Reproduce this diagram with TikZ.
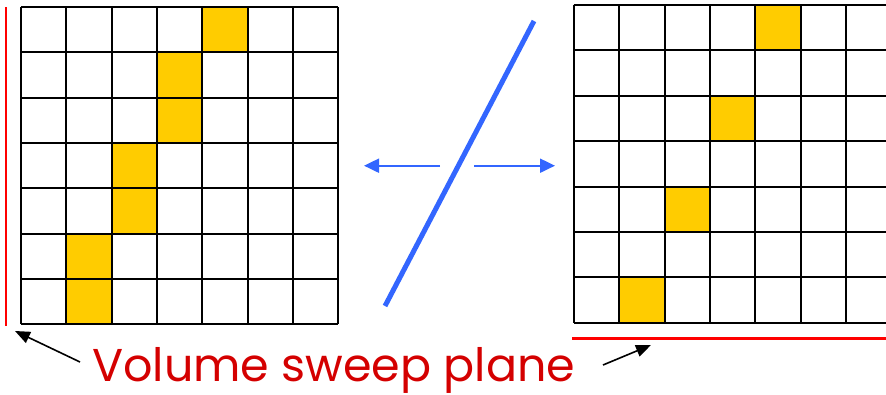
\documentclass[tikz,border=0pt]{standalone}
\usepackage{fontspec}
\setmainfont{Poppins}
\usetikzlibrary{arrows.meta}
\definecolor{cellyellow}{HTML}{FFCC00}
\definecolor{planeblue}{HTML}{3366FF}
\definecolor{labelred}{HTML}{D40000}
\definecolor{linered}{HTML}{FF0000}
\begin{document}
\begin{tikzpicture}[x=1pt,y=-1pt,
  gridline/.style={black,line width=2pt},
  hot/.style={fill=cellyellow},
  sweepline/.style={linered,line width=2.5pt},
  bluearrow/.style={planeblue,line width=2pt,-{Triangle[length=15pt,width=14pt]}},
  blackarrow/.style={black,line width=1.6pt,-{Triangle[length=15pt,width=12pt]}},
  label/.style={text=labelred,font=\fontsize{46}{50}\selectfont,inner sep=0pt}]
\useasboundingbox (0,0) rectangle (886,394);
\begin{scope}
\clip (0,0) rectangle (886,394);
% left grid
\def\lx{21}\def\ly{7}\def\lc{45.3}
\foreach \c/\r in {4/0,3/1,3/2,2/3,2/4,1/5,1/6}
  \fill[hot] ({\lx+\c*\lc},{\ly+\r*\lc}) rectangle ++(\lc,\lc);
\foreach \i in {0,...,7} {
  \draw[gridline] ({\lx+\i*\lc},\ly) -- ({\lx+\i*\lc},{\ly+7*\lc});
  \draw[gridline] (\lx,{\ly+\i*\lc}) -- ({\lx+7*\lc},{\ly+\i*\lc});
}
% right grid
\def\rx{573.7}\def\ry{5}\def\rc{45.4}
\foreach \c/\r in {4/0,3/2,2/4,1/6}
  \fill[hot] ({\rx+\c*\rc},{\ry+\r*\rc}) rectangle ++(\rc,\rc);
\foreach \i in {0,...,7} {
  \draw[gridline] ({\rx+\i*\rc},\ry) -- ({\rx+\i*\rc},{\ry+7*\rc});
  \draw[gridline] (\rx,{\ry+\i*\rc}) -- ({\rx+8*\rc},{\ry+\i*\rc});
}
% sweep planes
\draw[sweepline] (6,7) -- (6,326);
\draw[sweepline] (572,338.7) -- (890,338.7);
\end{scope}
% blue plane and arrows
\coordinate (ptop) at (534,21);
\coordinate (pbot) at (385,306);
\draw[planeblue,line width=5pt] (ptop) -- (pbot);
\coordinate (la) at (440,165.7);
\coordinate (lb) at (364,165.7);
\coordinate (ra) at (474,165.7);
\coordinate (rb) at (555,165.7);
\draw[bluearrow] (la) -- (lb);
\draw[bluearrow] (ra) -- (rb);
% label
\node[label,anchor=base west] (lbl) at (92,381) {Volume sweep plane};
\coordinate (t1) at (80,362);
\coordinate (h1) at (15,331);
\coordinate (t2) at (603,365);
\coordinate (h2) at (651,345);
\draw[blackarrow] (t1) -- (h1);
\draw[blackarrow] (t2) -- (h2);
\end{tikzpicture}
\end{document}
